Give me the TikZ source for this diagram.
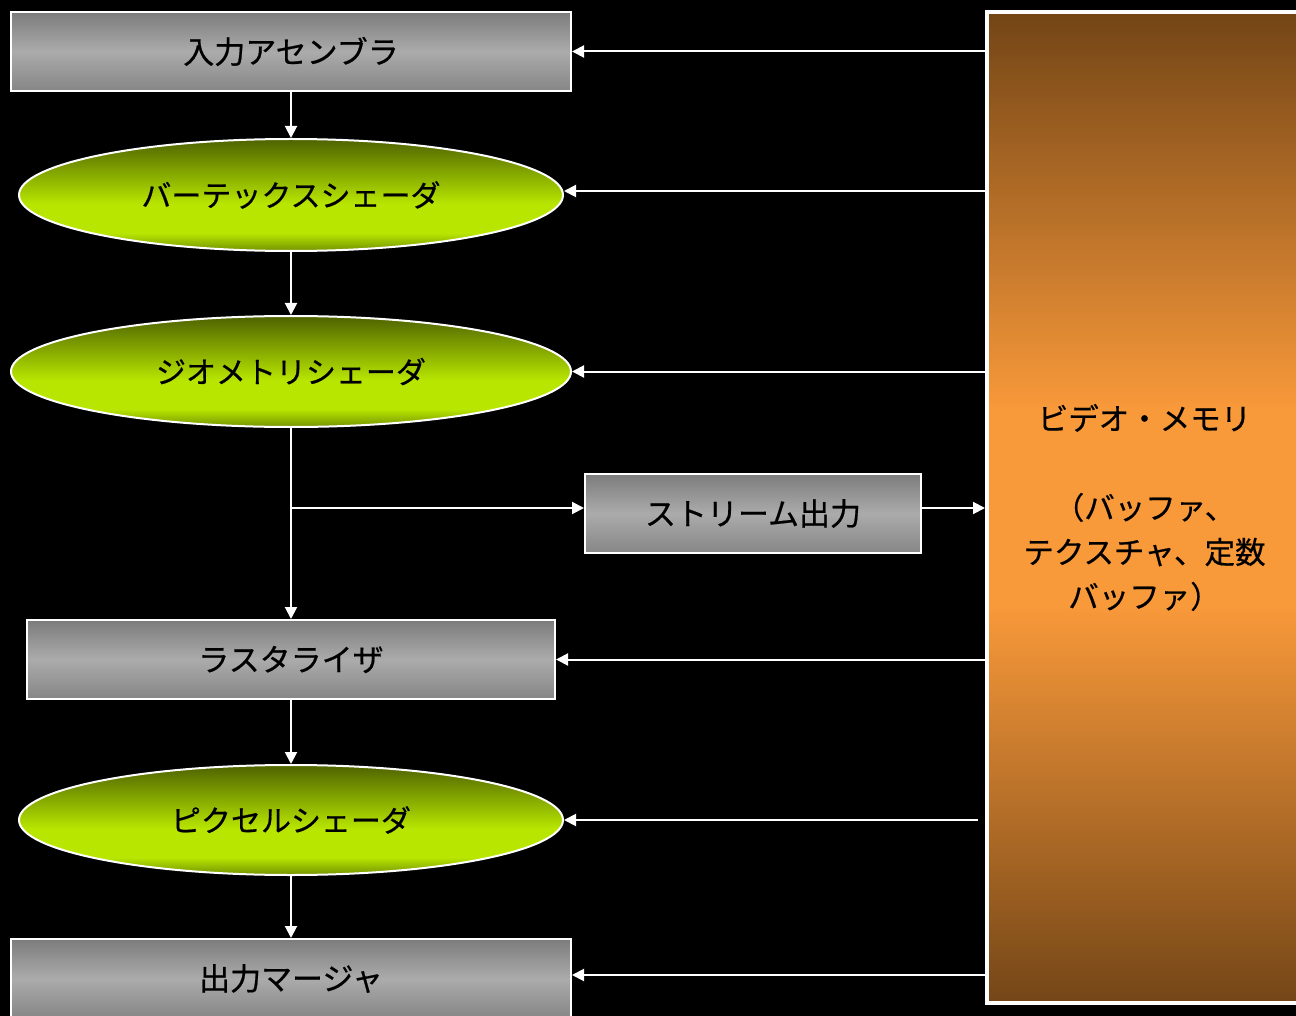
\documentclass[tikz,border=0pt]{standalone}
\usepackage{fontspec}
\setmainfont{Noto Sans CJK JP}[FakeBold=0.6]
\usetikzlibrary{arrows.meta,shapes.geometric}
\definecolor{gtop}{HTML}{7C7C7C}
\definecolor{gmid}{HTML}{ABABAB}
\definecolor{gbot}{HTML}{868686}
\definecolor{grtop}{HTML}{4E6300}
\definecolor{grbright}{HTML}{B8E600}
\definecolor{grbot}{HTML}{739200}
\definecolor{brtop}{HTML}{734516}
\definecolor{brmid}{HTML}{F8993A}
\definecolor{brbot}{HTML}{744617}
\pgfdeclareverticalshading{grayshade}{100bp}{color(0bp)=(gbot); color(25bp)=(gbot); color(50bp)=(gmid); color(75bp)=(gtop); color(100bp)=(gtop)}
\pgfdeclareverticalshading{greenshade}{100bp}{color(0bp)=(grbot); color(25bp)=(grbot); color(33bp)=(grbright); color(46bp)=(grbright); color(75bp)=(grtop); color(100bp)=(grtop)}
\pgfdeclareverticalshading{memshade}{100bp}{color(0bp)=(brbot); color(25bp)=(brbot); color(45bp)=(brmid); color(55bp)=(brmid); color(75bp)=(brtop); color(100bp)=(brtop)}
\tikzset{
  stagebox/.style={draw=white, line width=2pt, shading=grayshade, rectangle, inner sep=0pt,
    font=\fontsize{31}{34}\selectfont, text=black},
  shaderell/.style={draw=white, line width=2pt, shading=greenshade, ellipse, inner sep=0pt,
    font=\fontsize{30}{34}\selectfont, text=black},
  membox/.style={draw=white, line width=4pt, shading=memshade, rectangle, inner sep=0pt,
    font=\fontsize{30.5}{44.5}\selectfont, text=black, align=center},
  arr/.style={draw=white, line width=2pt, -{Triangle[length=12pt,width=12pt]}}
}
\begin{document}
\begin{tikzpicture}[x=1pt,y=-1pt]
\fill[black] (0,0) rectangle (1296,1016);
\useasboundingbox (0,0) rectangle (1296,1016);

\node[stagebox, minimum width=560pt, minimum height=79pt] (ia) at (291,51.5) {入力アセンブラ};
\node[shaderell, minimum width=544pt, minimum height=112pt] (vs) at (291,195) {バーテックスシェーダ};
\node[shaderell, minimum width=560pt, minimum height=111pt] (gs) at (291,371.5) {ジオメトリシェーダ};
\node[stagebox, minimum width=336pt, minimum height=79pt] (so) at (753,513.5) {ストリーム出力};
\node[stagebox, minimum width=528pt, minimum height=79pt] (rs) at (291,659.5) {ラスタライザ};
\node[shaderell, minimum width=544pt, minimum height=110pt] (ps) at (291,820) {ピクセルシェーダ};
\node[stagebox, minimum width=560pt, minimum height=79pt] (om) at (291,978.5) {出力マージャ};
\node[membox, minimum width=315pt, minimum height=991pt] (mem) at (1144.5,507.5)
  {ビデオ・メモリ\\[44.5pt]（バッファ、\\テクスチャ、定数\\バッファ）};

% pipeline arrows
\draw[arr] (ia.south) -- (vs.north);
\draw[arr] (vs.south) -- (gs.north);
\draw[arr] (gs.south) -- (rs.north);
\draw[arr] (rs.south) -- (ps.north);
\draw[arr] (ps.south) -- (om.north);

% stream output branch
\coordinate (br) at (291,508);
\draw[arr] (br) -- (so.west |- br);
\draw[arr] (so.east |- br) -- (mem.west |- br);

% memory connections
\draw[arr] (mem.west |- ia.east) -- (ia.east);
\draw[arr] (mem.west |- 0,191) -- (vs.east |- 0,191);
\draw[arr] (mem.west |- gs.east) -- (gs.east);
\draw[arr] (mem.west |- rs.east) -- (rs.east);
\coordinate (psfree) at ([xshift=-7pt]mem.west |- ps.east);
\draw[arr] (psfree) -- (ps.east);
\draw[arr] (mem.west |- 0,975) -- (om.east |- 0,975);
\end{tikzpicture}
\end{document}
